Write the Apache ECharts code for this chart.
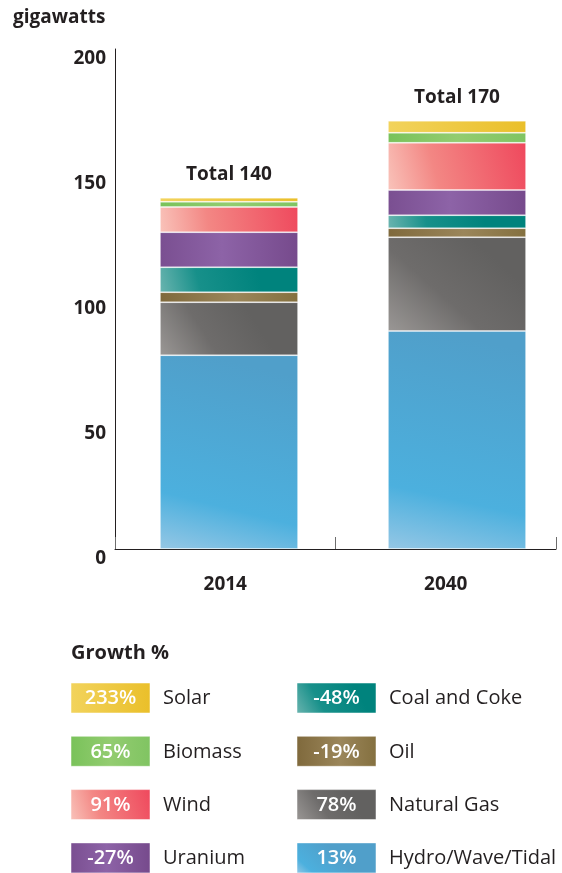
<!DOCTYPE html>
<html>
<head>
<meta charset="utf-8">
<script src="https://cdn.jsdelivr.net/npm/echarts@6/dist/echarts.min.js"></script>
<style>
  html, body { margin: 0; padding: 0; background: #ffffff; }
  #chart { width: 562px; height: 873px; }
</style>
</head>
<body>
<div id="chart"></div>
<script>
// Installed generating capacity by source, gigawatts
const categories = ['2014', '2040'];
const hydro   = [77.5, 87.2];
const gas     = [21.2, 37.5];
const oil     = [4.0, 3.6];
const coal    = [10.0, 5.2];
const uranium = [14.0, 10.1];
const wind    = [10.1, 18.9];
const biomass = [2.1, 4.0];
const solar   = [1.6, 4.8];

// Legend entries (two columns, top to bottom)
const legendNames  = ['Solar', 'Biomass', 'Wind', 'Uranium', 'Coal and Coke', 'Oil', 'Natural Gas', 'Hydro/Wave/Tidal'];
const legendGrowth = ['233%', '65%', '91%', '-27%', '-48%', '-19%', '78%', '13%'];

const yTicks = [0, 50, 100, 150, 200];

const FONT = '"Open Sans", "Noto Sans", sans-serif';
const INK = '#231f20';

// Shading for each source: gradient direction [x, y, x2, y2] and colour stops
const shades = {
  'Hydro/Wave/Tidal': [[0, 1, 0.35, 0], [[0, '#95c7e5'], [0.28, '#4cb0de'], [1, '#509fca']]],
  'Natural Gas':      [[0, 1, 0.6, 0], [[0, '#9a9795'], [0.5, '#6e6c6b'], [1, '#626160']]],
  'Oil':              [[0, 0, 1, 0], [[0, '#7f693c'], [0.55, '#9b865a'], [1, '#84703f']]],
  'Coal and Coke':    [[0, 1, 0.7, 0], [[0, '#6ab4af'], [0.4, '#17908a'], [1, '#00837d']]],
  'Uranium':          [[0, 0, 1, 0], [[0, '#7a4f91'], [0.45, '#8d63a7'], [1, '#764a8c']]],
  'Wind':             [[0, 1, 1, 0.2], [[0, '#f9c3ba'], [0.35, '#f38784'], [1, '#ef4a5e']]],
  'Biomass':          [[0, 0, 1, 0], [[0, '#79c25a'], [0.5, '#93cc70'], [1, '#80c462']]],
  'Solar':            [[0, 0, 1, 0], [[0, '#f2d35c'], [1, '#eabf2a']]]
};

function shade(name) {
  const d = shades[name][0];
  const stops = shades[name][1].map(s => ({ offset: s[0], color: s[1] }));
  return new echarts.graphic.LinearGradient(d[0], d[1], d[2], d[3], stops);
}

// Stack order, bottom to top
const stackOrder = [
  ['Hydro/Wave/Tidal', hydro],
  ['Natural Gas', gas],
  ['Oil', oil],
  ['Coal and Coke', coal],
  ['Uranium', uranium],
  ['Wind', wind],
  ['Biomass', biomass],
  ['Solar', solar]
];

const totals = categories.map((c, i) => stackOrder.reduce((acc, s) => acc + s[1][i], 0));

const series = stackOrder.map(([name, values], k) => {
  const isTop = k === stackOrder.length - 1;
  return {
    name: name,
    type: 'bar',
    stack: 'capacity',
    xAxisIndex: 1,
    yAxisIndex: 1,
    barWidth: 138,
    data: values,
    itemStyle: {
      color: shade(name),
      borderColor: 'rgba(255,255,255,0.4)',
      borderWidth: 0.8
    },
    label: isTop ? {
      show: true,
      position: 'top',
      distance: 14,
      fontFamily: FONT,
      fontSize: 19,
      fontWeight: 'bold',
      color: INK,
      formatter: p => 'Total ' + Math.round(totals[p.dataIndex] / 10) * 10
    } : { show: false }
  };
});

// Legend drawn as swatches with growth figures
const graphics = [{
  type: 'text',
  left: 71,
  top: 643,
  style: { text: 'Growth %', font: 'bold 20px ' + FONT, fill: INK }
}];
legendNames.forEach((name, i) => {
  const col = i < 4 ? 0 : 1;
  const row = i % 4;
  const bx = col === 0 ? 71 : 297;
  const by = 683 + row * 53.3;
  graphics.push({
    type: 'rect',
    shape: { x: bx, y: by, width: 79, height: 30 },
    style: { fill: shade(name), stroke: 'rgba(255,255,255,0.5)', lineWidth: 1 }
  });
  graphics.push({
    type: 'text',
    x: bx + 39.5,
    y: by + 15.5,
    style: {
      text: legendGrowth[i],
      font: '600 20px ' + FONT,
      fill: '#ffffff',
      align: 'center',
      verticalAlign: 'middle'
    }
  });
  graphics.push({
    type: 'text',
    x: bx + 92,
    y: by + 15.5,
    style: {
      text: name,
      font: '20px ' + FONT,
      fill: INK,
      align: 'left',
      verticalAlign: 'middle'
    }
  });
});

const chart = echarts.init(document.getElementById('chart'), null, { renderer: 'canvas' });
chart.setOption({
  animation: false,
  backgroundColor: '#ffffff',
  title: {
    text: 'gigawatts',
    left: 13,
    top: 8,
    padding: 0,
    textStyle: { fontFamily: FONT, fontSize: 19, fontWeight: 'bold', color: INK }
  },
  grid: [
    { left: 115, right: 6, top: 49, bottom: 324, outerBoundsMode: 'none', containLabel: false },
    { left: 115, width: 456, top: 49, bottom: 324, outerBoundsMode: 'none', containLabel: false }
  ],
  xAxis: [
    {
      type: 'category',
      gridIndex: 0,
      data: categories,
      boundaryGap: true,
      axisLine: { show: true, lineStyle: { color: INK, width: 1 } },
      axisTick: { show: true, inside: true, length: 12, lineStyle: { color: '#6d6d6d', width: 1 } },
      axisLabel: { margin: 26, fontFamily: FONT, fontSize: 19, fontWeight: 'bold', color: INK }
    },
    {
      type: 'category',
      gridIndex: 1,
      data: categories,
      show: false
    }
  ],
  yAxis: [
    {
      type: 'value',
      gridIndex: 0,
      min: 0,
      max: 200,
      interval: 50,
      axisLine: { show: true, lineStyle: { color: INK, width: 1 } },
      axisTick: { show: false },
      splitLine: { show: false },
      axisLabel: {
        margin: 9,
        verticalAlign: 'top',
        fontFamily: FONT,
        fontSize: 19,
        fontWeight: 'bold',
        color: INK,
        formatter: v => (yTicks.indexOf(v) >= 0 ? String(v) : '')
      }
    },
    {
      type: 'value',
      gridIndex: 1,
      min: 0,
      max: 200,
      show: false
    }
  ],
  graphic: graphics,
  series: series
});
</script>
</body>
</html>
